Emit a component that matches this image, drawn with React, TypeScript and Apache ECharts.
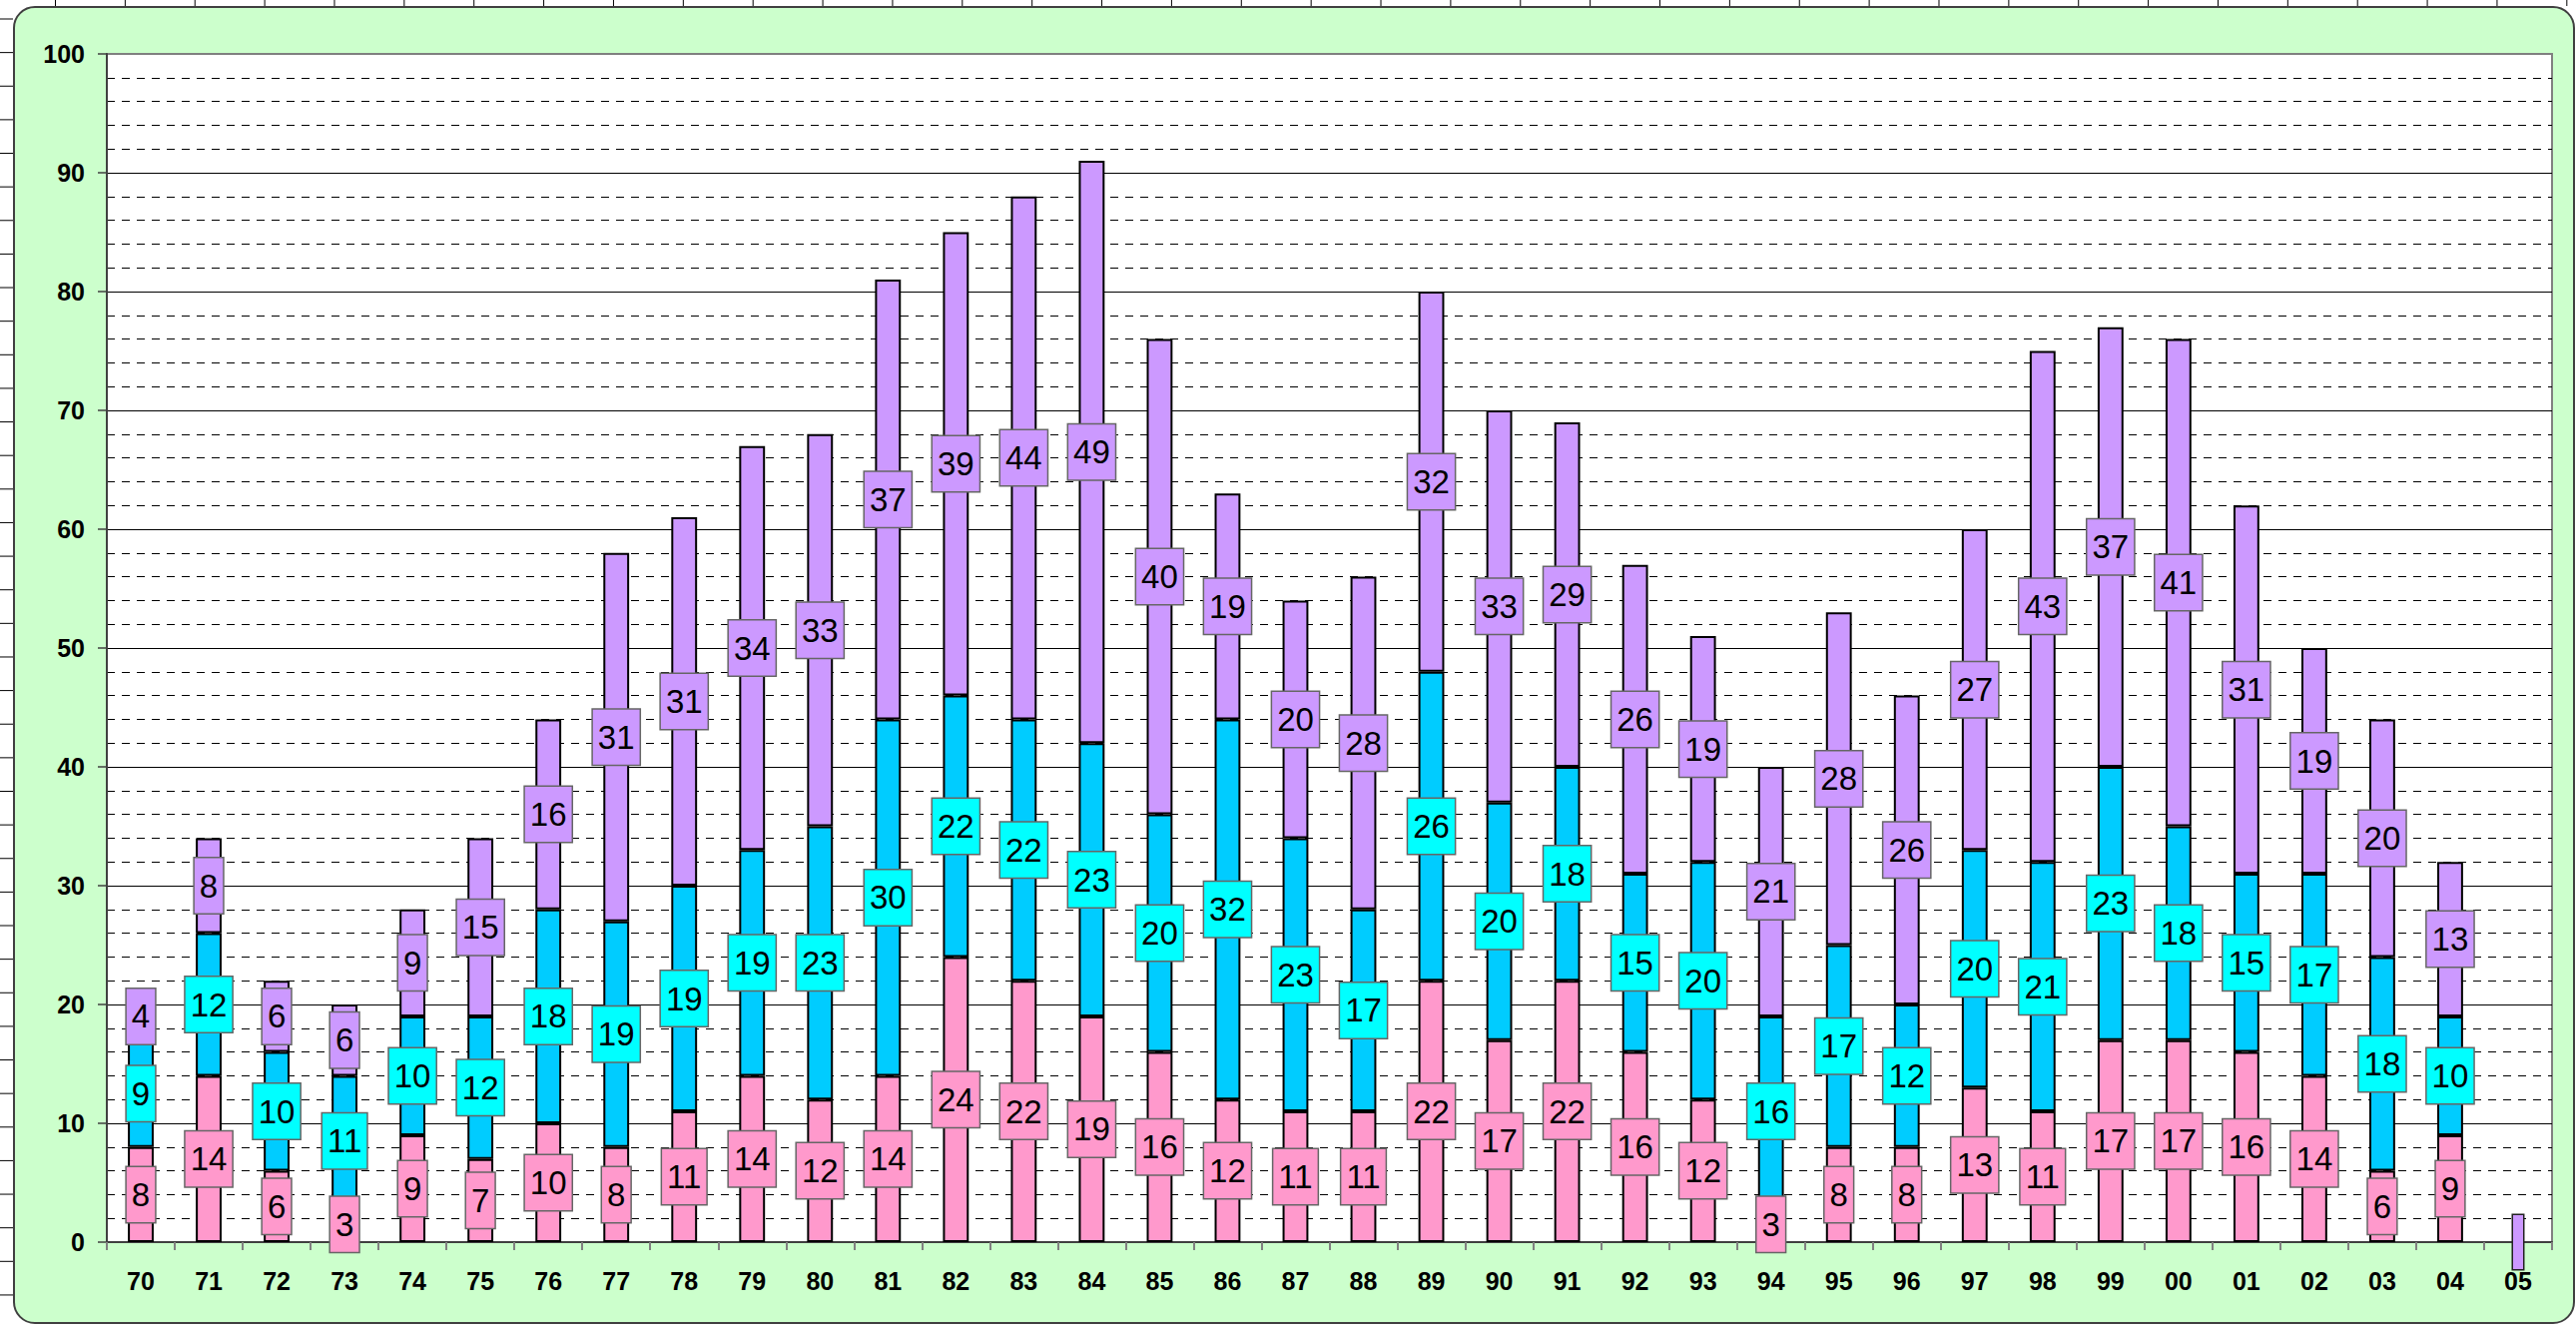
import React, { useEffect, useRef } from "react";
import * as echarts from "echarts";

const categories = [
  "70", "71", "72", "73", "74", "75", "76", "77", "78", "79",
  "80", "81", "82", "83", "84", "85", "86", "87", "88", "89",
  "90", "91", "92", "93", "94", "95", "96", "97", "98", "99",
  "00", "01", "02", "03", "04", "05",
];

const pinkValues = [
  8, 14, 6, 3, 9, 7, 10, 8, 11, 14,
  12, 14, 24, 22, 19, 16, 12, 11, 11, 22,
  17, 22, 16, 12, 3, 8, 8, 13, 11, 17,
  17, 16, 14, 6, 9, null,
];

const cyanValues = [
  9, 12, 10, 11, 10, 12, 18, 19, 19, 19,
  23, 30, 22, 22, 23, 20, 32, 23, 17, 26,
  20, 18, 15, 20, 16, 17, 12, 20, 21, 23,
  18, 15, 17, 18, 10, null,
];

const purpleValues = [
  4, 8, 6, 6, 9, 15, 16, 31, 31, 34,
  33, 37, 39, 44, 49, 40, 19, 20, 28, 32,
  33, 29, 26, 19, 21, 28, 26, 27, 43, 37,
  41, 31, 19, 20, 13, 0,
];

const yMin = 0;
const yMax = 100;
const yInterval = 10;

const W = 2580;
const H = 1328;
const GRID = { left: 107, top: 54, right: 24, bottom: 84 };
const FRAME = { left: 13, top: 6, width: 2566, height: 1320, radius: 22 };

const FONT = "'Liberation Sans', Arial, sans-serif";

function makeSeries(name: string, values: (number | null)[], barColor: string, labelBg: string) {
  return {
    type: "bar",
    name,
    stack: "total",
    barWidth: "38%",
    data: values.map((v) =>
      v === 0
        ? {
            value: 0,
            itemStyle: { borderWidth: 0 },
            label: { borderColor: "#222", padding: [27, 5] },
          }
        : v
    ),
    itemStyle: { color: barColor, borderColor: "#000", borderWidth: 2 },
    label: {
      show: true,
      position: "inside",
      formatter: (p: any) => (p.value === 0 ? "" : String(p.value)),
      color: "#000",
      fontFamily: FONT,
      fontSize: 33,
      lineHeight: 35,
      backgroundColor: labelBg,
      borderColor: "#666",
      borderWidth: 1.5,
      padding: [10, 5],
    },
  };
}

export default function App() {
  const ref = useRef<HTMLDivElement>(null);

  useEffect(() => {
    if (!ref.current) return;
    const chart = echarts.init(ref.current, undefined, { renderer: "svg" });

    const decor: any[] = [];
    for (let k = 0; k <= 38; k++) {
      const y = 19 + k * 33.63;
      decor.push({
        type: "line",
        z: -10,
        shape: { x1: 0, y1: y, x2: FRAME.left, y2: y },
        style: { stroke: "#000", lineWidth: 1 },
        silent: true,
      });
    }
    for (let k = 0; k <= 36; k++) {
      const x = 55.5 + k * 69.87;
      decor.push({
        type: "line",
        z: -10,
        shape: { x1: x, y1: 0, x2: x, y2: FRAME.top },
        style: { stroke: "#000", lineWidth: 1 },
        silent: true,
      });
    }
    decor.push({
      type: "rect",
      z: -10,
      shape: {
        x: GRID.left,
        y: GRID.top,
        width: W - GRID.left - GRID.right,
        height: H - GRID.top - GRID.bottom,
      },
      style: { fill: "#FFFFFF", stroke: "#808080", lineWidth: 2 },
      silent: true,
    });

    const splitColors = Array.from({ length: (yMax - yMin) / yInterval + 1 }, (_, i) =>
      i === (yMax - yMin) / yInterval ? "#808080" : "#000"
    );

    chart.setOption({
      animation: false,
      backgroundColor: "transparent",
      graphic: { elements: decor },
      grid: {
        ...GRID,
        show: true,
        backgroundColor: "#FFFFFF",
        borderColor: "#808080",
        borderWidth: 2,
      },
      xAxis: {
        type: "category",
        data: categories,
        axisLine: { lineStyle: { color: "#404040", width: 2 } },
        axisTick: { show: true, length: 8, lineStyle: { color: "#808080", width: 2 } },
        axisLabel: {
          interval: 0,
          color: "#000",
          fontFamily: FONT,
          fontWeight: "bold",
          fontSize: 25,
          margin: 26,
        },
        splitLine: { show: false },
      },
      yAxis: {
        type: "value",
        min: yMin,
        max: yMax,
        interval: yInterval,
        axisLine: { show: true, lineStyle: { color: "#404040", width: 2 } },
        axisTick: { show: true, length: 9, lineStyle: { color: "#404040", width: 1.5 } },
        axisLabel: {
          color: "#000",
          fontFamily: FONT,
          fontWeight: "bold",
          fontSize: 25,
          margin: 22,
        },
        splitLine: { show: true, lineStyle: { color: splitColors, width: 1 } },
        minorTick: { show: false, splitNumber: 5 },
        minorSplitLine: {
          show: true,
          lineStyle: { color: "#000", width: 1, type: [8, 7] },
        },
      },
      series: [
        makeSeries("pink", pinkValues, "#FF99CC", "#FF99CC"),
        makeSeries("cyan", cyanValues, "#00CCFF", "#00FFFF"),
        makeSeries("purple", purpleValues, "#CC99FF", "#CC99FF"),
      ],
    });

    return () => chart.dispose();
  }, []);

  return (
    <div
      style={{
        position: "absolute",
        left: 0,
        top: 0,
        width: W,
        height: H,
        background: "#FFFFFF",
        overflow: "hidden",
      }}
    >
      <div
        style={{
          position: "absolute",
          left: FRAME.left,
          top: FRAME.top,
          width: FRAME.width,
          height: FRAME.height,
          boxSizing: "border-box",
          border: "2px solid #404040",
          borderRadius: FRAME.radius,
          background: "#CCFFCC",
        }}
      />
      <div
        ref={ref}
        style={{ position: "absolute", left: 0, top: 0, width: W, height: H }}
      />
    </div>
  );
}
